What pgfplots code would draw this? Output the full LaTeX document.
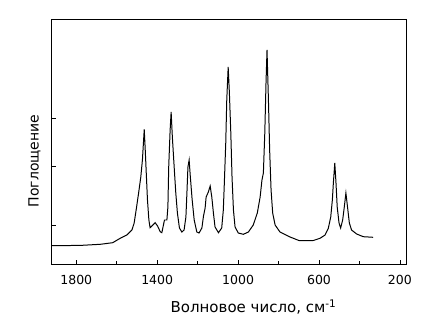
\documentclass[border=0pt]{standalone}
\usepackage{fontspec}
\setmainfont{DejaVu Sans}
\usepackage{pgfplots}
\pgfplotsset{compat=1.18}
\begin{document}
\begin{tikzpicture}
\begin{axis}[
  width=355bp, height=244bp, scale only axis,
  x dir=reverse,
  xmin=165, xmax=1920,
  ymin=0, ymax=244,
  xtick={1800,1400,1000,600,200},
  minor xtick={1600,1200,800,400},
  ytick={39,98,146},
  yticklabels={},
  xtick pos=bottom, ytick pos=left,
  major tick length=4bp, minor tick length=3bp,
  tick style={line width=0.8pt, black},
  axis line style={line width=1pt},
  /pgf/number format/assume math mode=true,
  /pgf/number format/1000 sep={},
  ticklabel style={font=\fontsize{12.5bp}{14bp}\selectfont},
  xticklabel style={yshift=-8bp},
  xlabel={Волновое число, см\textsuperscript{-1}},
  xlabel style={font=\fontsize{15bp}{17bp}\selectfont, yshift=-8bp, xshift=24bp},
  ylabel={Поглощение},
  ylabel style={font=\fontsize{14bp}{16bp}\selectfont, yshift=1bp, xshift=-19bp},
]
\addplot[black, line width=1pt] coordinates {
(1920,18.3) (1780,18.6) (1681,19.7) (1620,21.3) (1583,25.7) (1550,29) (1525,34)
(1514,40.7) (1504,54) (1492,70.7) (1481,87) (1473,104) (1468,121) (1464,134.7)
(1459,114) (1454,91) (1448,64) (1441,44) (1435,36.3) (1421,39) (1410,41.3)
(1398,38) (1385,32.3) (1377,31.3) (1369,39) (1364,44) (1352,44) (1347,57)
(1343,97) (1336,134) (1331,152) (1325,127) (1316,97) (1308,71) (1300,51)
(1290,36) (1278,32) (1267,34) (1258,47) (1253,71) (1248,97) (1242,104)
(1236,87) (1227,64) (1217,44) (1204,32) (1193,31) (1179,36) (1171,48)
(1163,56) (1158,67) (1147,72) (1138,78) (1130,67) (1122,51) (1114,37)
(1097,31.3) (1081,36) (1073,54) (1068,81) (1061,121) (1056,164) (1049,197)
(1043,171) (1036,131) (1030,87) (1023,54) (1015,37) (999,31) (974,29.7)
(949,32) (925,39) (905,51) (891,67) (882,84) (875,91) (868,131) (862,181)
(857,214) (850,164) (844,114) (837,74) (829,51) (817,39) (793,32) (743,27)
(697,23.3) (628,23.5) (595,25.7) (570,29) (554,35.7) (542,47) (534,64)
(529,81) (522,101) (516,81) (510,57) (501,41) (493,36) (483,44) (475,57)
(467,71) (459,57) (450,41) (439,34) (414,30) (381,27.3) (332,26.7)
};
\end{axis}
\pgfresetboundingbox
\path[use as bounding box] (current axis.south west) ++(-52bp,-65bp) rectangle ([shift={(18bp,20bp)}]current axis.north east);
\end{tikzpicture}
\end{document}
